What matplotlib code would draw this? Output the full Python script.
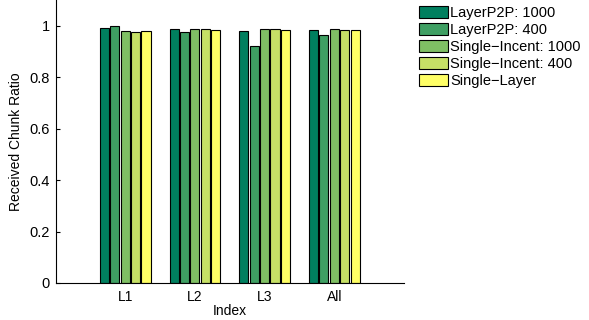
import matplotlib
matplotlib.use("Agg")
import matplotlib.pyplot as plt
import numpy as np

plt.rcParams['font.family'] = ['Liberation Sans', 'DejaVu Sans']

categories = ["L1", "L2", "L3", "All"]
series_names = ["LayerP2P: 1000", "LayerP2P: 400", "Single\u2212Incent: 1000",
                "Single\u2212Incent: 400", "Single\u2212Layer"]
layerp2p_1000 = [0.991, 0.987, 0.979, 0.984]
layerp2p_400 = [0.998, 0.977, 0.920, 0.965]
single_incent_1000 = [0.981, 0.988, 0.988, 0.987]
single_incent_400 = [0.975, 0.988, 0.986, 0.983]
single_layer = [0.978, 0.983, 0.983, 0.982]
series = [layerp2p_1000, layerp2p_400, single_incent_1000, single_incent_400, single_layer]
colors = ["#007F5F", "#3F9F63", "#7FBF64", "#C6E066", "#FFFF66"]

fig = plt.figure(figsize=(5.89, 3.2), dpi=100)
ax = fig.add_axes([55.5/589, 1-283/320, (404-55.5)/589, 283/320])

x = np.arange(1, len(categories)+1)
slot = 0.149
width = 0.13
for i, (vals, name, c) in enumerate(zip(series, series_names, colors)):
    ax.bar(x + (i-2)*slot, vals, width=width, color=c, edgecolor='black',
           linewidth=0.8, label=name)

ax.set_xlim(0, 5)
ax.set_ylim(0, 1.1)
ax.set_xticks(x)
ax.set_xticklabels(categories)
ax.set_yticks([0, 0.2, 0.4, 0.6, 0.8, 1])
ax.set_yticklabels(["0", "0.2", "0.4", "0.6", "0.8", "1"])
ax.tick_params(axis='y', direction='in', length=3, labelsize=10.5, pad=4)
ax.tick_params(axis='x', length=0, labelsize=10, pad=5)
for s in ['top', 'right']:
    ax.spines[s].set_visible(False)
ax.set_xlabel("Index", fontsize=10, labelpad=0)
ax.set_ylabel("Received Chunk Ratio", fontsize=10, labelpad=5)

leg = fig.legend(loc='upper left', bbox_to_anchor=(419/589, 1-6/320), frameon=False,
                 fontsize=10.5, handlelength=2.0, handleheight=0.88,
                 labelspacing=0.2, handletextpad=0.12, borderaxespad=0, borderpad=0)

fig.savefig("out.png", dpi=100)
